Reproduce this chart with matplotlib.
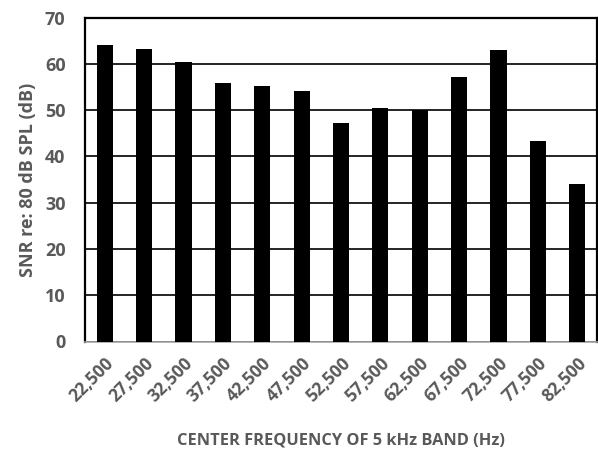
import matplotlib.pyplot as plt

freqs = ['22,500', '27,500', '32,500', '37,500', '42,500', '47,500', '52,500',
         '57,500', '62,500', '67,500', '72,500', '77,500', '82,500']
snr = [64.0, 63.2, 60.4, 55.9, 55.2, 54.1, 47.3, 50.4, 50.0, 57.1, 63.0, 43.4, 34.0]

plt.rcParams['font.family'] = ['Open Sans', 'DejaVu Sans']
grey = '#595959'

fig = plt.figure(figsize=(5.98, 4.49), dpi=100)
ax = fig.add_axes([85 / 598, 1 - 341.5 / 449, 512 / 598, 324 / 449])

pos = range(len(freqs))
ax.bar(pos, snr, width=0.41, color='black', zorder=3)
ax.set_xlim(-0.5, len(freqs) - 0.5)
ax.set_ylim(0, 70)
ax.set_yticks(range(0, 71, 10))
ax.yaxis.grid(True, color='black', linewidth=1.2, zorder=0)
ax.set_xticks(list(pos))
ax.set_xticklabels(freqs, rotation=45, ha='right', rotation_mode='anchor')
ax.tick_params(length=0, labelsize=12.5, labelcolor=grey)
ax.tick_params(axis='x', pad=9)
ax.tick_params(axis='y', pad=14, labelsize=13)
for lab in ax.get_xticklabels() + ax.get_yticklabels():
    lab.set_fontweight('bold')
for side in ['left', 'top', 'right']:
    ax.spines[side].set_linewidth(1.6)
    ax.spines[side].set_color('black')
ax.spines['bottom'].set_color('#a6a6a6')
ax.spines['bottom'].set_linewidth(1.2)

ax.set_xlabel('CENTER FREQUENCY OF 5 kHz BAND (Hz)', fontsize=11.8, fontweight='bold',
              color=grey, labelpad=20)
ax.set_ylabel('SNR re: 80 dB SPL (dB)', fontsize=13, fontweight='bold', color=grey,
              labelpad=6)

fig.savefig('out.png', dpi=100)
